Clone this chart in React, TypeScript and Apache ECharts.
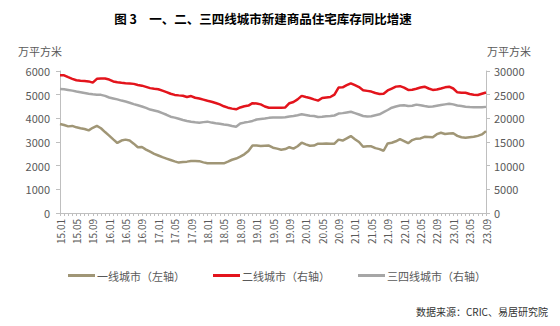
import React, { useEffect, useRef } from "react";
import * as echarts from "echarts";

const years = ["15", "16", "17", "18", "19", "20", "21", "22", "23"];
const months = ["01", "02", "03", "04", "05", "06", "07", "08", "09", "10", "11", "12"];
const categories: string[] = [];
years.forEach((y) => months.forEach((m) => { if (!(y === "23" && Number(m) > 9)) categories.push(`${y}.${m}`); }));

const tier1 = [
  3760, 3720, 3660, 3680, 3620, 3580, 3550, 3490, 3600, 3680, 3580, 3420,
  3270, 3110, 2960, 3060, 3100, 3060, 2930, 2780, 2790, 2680, 2590, 2500,
  2430, 2360, 2300, 2240, 2180, 2130, 2150, 2170, 2200, 2200, 2190, 2140,
  2100, 2100, 2100, 2100, 2100, 2170, 2250, 2300, 2380, 2480, 2620, 2850,
  2850, 2830, 2840, 2850, 2760, 2720, 2670, 2700, 2780, 2720, 2820, 2970,
  2900, 2840, 2850, 2930, 2930, 2940, 2930, 2930, 3100, 3060, 3150, 3250,
  3120, 3000, 2800, 2820, 2820, 2740, 2700, 2630, 2940, 2970, 3030, 3120,
  3040, 2950, 3080, 3140, 3150, 3220, 3210, 3200, 3330, 3390, 3340, 3360,
  3370, 3260, 3200, 3180, 3200, 3220, 3260, 3320, 3460,
];

const tier2 = [
  29100, 29100, 28700, 28350, 28050, 27950, 27900, 27800, 27550, 28350, 28400, 28400,
  28200, 27800, 27620, 27500, 27420, 27350, 27280, 27050, 26900, 26650, 26380, 26250,
  26150, 25850, 25550, 25200, 24950, 24850, 24760, 24500, 24700, 24350, 24200, 23950,
  23700, 23500, 23250, 22950, 22550, 22250, 22050, 21900, 22300, 22550, 22700, 23200,
  23150, 22950, 22500, 22250, 22250, 22250, 22250, 22300, 23200, 23450, 24000, 24750,
  24500, 24300, 24000, 23750, 24300, 24400, 24500, 25000, 26500, 26550, 27000, 27400,
  27000, 26600, 25950, 25800, 25650, 25350, 25150, 25200, 25900, 26300, 26700, 26800,
  26500, 26000, 26050, 26250, 26500, 26690, 26300, 26000, 26100, 26300, 26550, 26690,
  26300, 25500, 25430, 25400, 25150, 25000, 24930, 25200, 25450,
];

const tier34 = [
  26200, 26150, 26000, 25850, 25650, 25500, 25350, 25200, 25080, 25000, 24960, 24750,
  24400, 24200, 24000, 23750, 23550, 23300, 23000, 22750, 22500, 22200, 21850, 21650,
  21450, 21100, 20750, 20350, 20150, 19900, 19650, 19450, 19280, 19150, 19050, 19200,
  19300, 19100, 18950, 18850, 18700, 18580, 18400, 18240, 18900, 19100, 19250, 19450,
  19750, 19850, 19950, 20100, 20200, 20200, 20200, 20250, 20400, 20500, 20650, 20850,
  20700, 20550, 20500, 20300, 20350, 20450, 20500, 20600, 21000, 21100, 21250, 21400,
  21100, 20800, 20500, 20400, 20450, 20650, 20850, 21300, 21760, 22250, 22500, 22700,
  22750, 22600, 22650, 22900, 22750, 22600, 22460, 22500, 22650, 22800, 22950, 23100,
  22950, 22700, 22600, 22450, 22380, 22330, 22330, 22350, 22420,
];

const seriesNames = ["一线城市（左轴）", "二线城市（右轴）", "三四线城市（右轴）"];
const title = "图 3　一、二、三四线城市新建商品住宅库存同比增速";
const source = "数据来源：CRIC、易居研究院";

export default function App() {
  const ref = useRef<HTMLDivElement>(null);
  useEffect(() => {
    if (!ref.current) return;
    const chart = echarts.init(ref.current, null, { renderer: "svg" });
    const axisColor = "#BFBFBF";
    const labelColor = "#595959";
    const font = "'Noto Sans CJK SC', 'Noto Sans', sans-serif";
    const plain = (v: number) => String(v);
    chart.setOption({
      animation: false,
      backgroundColor: "#ffffff",
      textStyle: { fontFamily: font },
      title: {
        text: title,
        left: 258,
        textAlign: "center",
        top: 7,
        textStyle: { fontSize: 12.5, fontWeight: "bold", color: "#000", fontFamily: font },
      },
      graphic: [
        {
          type: "text",
          right: 12,
          top: 306,
          style: { text: source, fontSize: 10, fill: "#333", fontFamily: font },
        },
      ],
      legend: {
        left: 63,
        top: 265,
        itemWidth: 27,
        itemHeight: 3,
        itemGap: 28,
        icon: "rect",
        textStyle: { fontSize: 11, color: labelColor, padding: [0, 0, 0, -3] },
        data: seriesNames,
      },
      grid: { left: 60, right: 74, top: 71, bottom: 113, containLabel: false },
      xAxis: {
        type: "category",
        data: categories,
        boundaryGap: false,
        axisLine: { show: true, lineStyle: { color: axisColor, width: 1 } },
        axisTick: { show: true, interval: 0, length: 3, lineStyle: { color: axisColor } },
        axisLabel: {
          interval: 3,
          rotate: 90,
          fontSize: 10,
          color: labelColor,
          margin: 6,
        },
        splitLine: { show: false },
      },
      yAxis: [
        {
          type: "value",
          min: 0,
          max: 6000,
          interval: 1000,
          name: "万平方米",
          nameLocation: "end",
          nameGap: 15,
          nameTextStyle: { fontSize: 11, color: labelColor, align: "center", padding: [0, 0, 0, -40] },
          axisLine: { show: true, lineStyle: { color: axisColor } },
          axisTick: { show: true, length: 4, lineStyle: { color: axisColor } },
          axisLabel: { fontSize: 11, color: labelColor, margin: 10, formatter: plain },
          splitLine: { show: false },
        },
        {
          type: "value",
          min: 0,
          max: 30000,
          interval: 5000,
          name: "万平方米",
          nameLocation: "end",
          nameGap: 15,
          nameTextStyle: { fontSize: 11, color: labelColor, align: "center", padding: [0, 0, 0, 46] },
          axisLine: { show: true, lineStyle: { color: axisColor } },
          axisTick: { show: true, length: 4, lineStyle: { color: axisColor } },
          axisLabel: { fontSize: 11, color: labelColor, margin: 8, formatter: plain },
          splitLine: { show: false },
        },
      ],
      series: [
        {
          name: seriesNames[0],
          type: "line",
          yAxisIndex: 0,
          data: tier1,
          showSymbol: false,
          lineStyle: { width: 2.5, color: "#A09676" },
          itemStyle: { color: "#A09676" },
        },
        {
          name: seriesNames[1],
          type: "line",
          yAxisIndex: 1,
          data: tier2,
          showSymbol: false,
          lineStyle: { width: 2.5, color: "#E3141C" },
          itemStyle: { color: "#E3141C" },
        },
        {
          name: seriesNames[2],
          type: "line",
          yAxisIndex: 1,
          data: tier34,
          showSymbol: false,
          lineStyle: { width: 2.5, color: "#A6A6A6" },
          itemStyle: { color: "#A6A6A6" },
        },
      ],
    });
    return () => chart.dispose();
  }, []);
  return <div ref={ref} style={{ width: 560, height: 326, position: "absolute", left: 0, top: 0 }} />;
}
